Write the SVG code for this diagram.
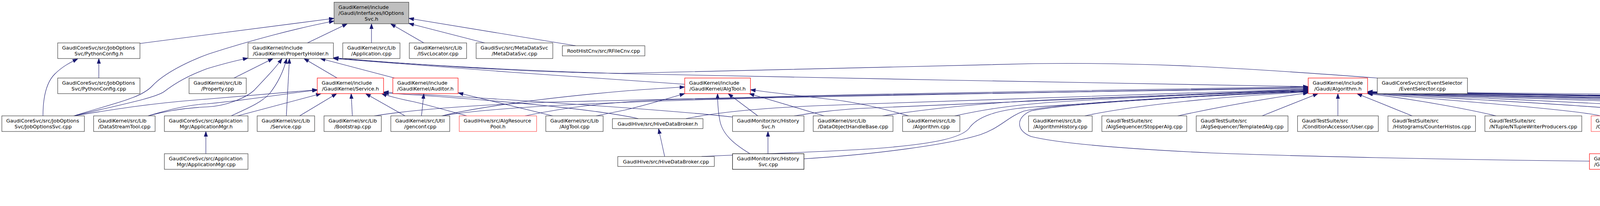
<svg xmlns="http://www.w3.org/2000/svg" width="6360" height="528" viewBox="0 0 6360 528">
<style>
.n rect{fill:#fff;stroke:#404040;stroke-width:1.2}
.n.r rect{stroke:#ff0000}
.n.rl rect{stroke:#ff4d4d}
.n.k rect{stroke:#000}
.n.g rect{fill:#bfbfbf}
text{font-family:"DejaVu Sans",Verdana,sans-serif;font-size:12.8px;fill:#000}
.m{text-anchor:middle}
#edges path{fill:none;stroke:#191970;stroke-width:1.1;marker-end:url(#ah)}
</style>
<defs>
<marker id="ah" viewBox="0 0 13 10" refX="13" refY="5" markerWidth="13" markerHeight="10" markerUnits="userSpaceOnUse" orient="auto">
<path d="M0,0.5 L13,5 L0,9.5 z" fill="#191970" stroke="#191970" stroke-width="1"/>
</marker>
</defs>
<rect x="0" y="0" width="6360" height="528" fill="#fff"/>
<g id="edges">
<path d="M358.3,111.5 L855.2,47"/>
<path d="M189,297 C300,262 360,252 390,220 C420,188 480,158 535,138 C640,104 760,72 855.2,54"/>
<path d="M787,110 L889,61"/>
<path d="M951,110 L951,61"/>
<path d="M1085,110 L1000,61"/>
<path d="M1241,110 L1046.5,60"/>
<path d="M1474,117.3 L1046.5,47"/>
<path d="M253,200 L253,150"/>
<path d="M110,297 C110,250 118,212 140,190 C160,170 180,160 199,151"/>
<path d="M189,297 C300,270 395,252 420,235 C450,212 480,195 530,176 C570,164 600,156 634.8,149"/>
<path d="M599,200 L699,150"/>
<path d="M379,297 C430,283 480,276 530,274 C580,272 630,250 650,232 C680,200 705,175 722,150"/>
<path d="M592,297 C640,275 670,262 690,240 C712,212 726,182 734,150"/>
<path d="M733,297 L741,150"/>
<path d="M863,200 L778,150"/>
<path d="M1010,200 L820,150"/>
<path d="M1752.9,216 C1500,200 1100,170 853.5,150"/>
<path d="M3349,222 C2900,214 2100,200 1600,189 C1300,180 1050,165 853.5,149"/>
<path d="M3526,200 C3100,168 2900,160 2650,163 C2300,170 1800,186 1590,188 C1350,186 1050,165 853.5,148"/>
<path d="M189,297 C280,282 380,265 530,254 C650,244 740,236 812.2,230"/>
<path d="M379,297 C420,285 470,270 530,266 C650,255 740,238 812.2,231"/>
<path d="M608,297 L822,240"/>
<path d="M767,297 L862,240"/>
<path d="M902,297 L899,240"/>
<path d="M1037,297 L936,240"/>
<path d="M1195,297 C1150,285 1100,270 1060,261 C1030,255 1000,248 977,240"/>
<path d="M1634,304 C1500,275 1200,252 981.9,238"/>
<path d="M1875.3,300 C1700,280 1300,255 981.9,236"/>
<path d="M1079,297 L1085,240"/>
<path d="M1415,297 L1173,238"/>
<path d="M1131,297 C1200,280 1350,255 1590,234 C1650,229 1700,226 1752.9,223"/>
<path d="M1526,297 C1560,290 1580,286 1600,282 C1660,268 1710,252 1752.9,240"/>
<path d="M1940,297 L1864,240"/>
<path d="M1920,394 C1880,370 1850,345 1843,310 C1838,285 1837,260 1837,240"/>
<path d="M2110,297 L1918,240"/>
<path d="M2326,297 C2250,275 2180,260 2120,254 C2050,246 1980,238 1921.2,230"/>
<path d="M958,297 C1050,282 1200,270 1400,262 C2000,245 3000,225 3349,222"/>
<path d="M1131,297 C1300,268 1700,258 2000,250 C2600,236 3100,226 3349,224"/>
<path d="M1344,297 C1450,275 1550,262 1700,256 C2300,240 3000,228 3349,226"/>
<path d="M1756,304 C1850,285 1980,275 2120,270 C2600,252 3100,235 3349,228"/>
<path d="M2033,297 C2080,290 2120,283 2200,278 C2700,255 3150,236 3349,229"/>
<path d="M2259,297 C2400,275 2550,262 2700,255 C3000,242 3250,234 3349,231"/>
<path d="M2444,297 C2500,285 2560,273 2680,263 C2950,245 3250,236 3349,232"/>
<path d="M1796,401 C1950,394 2150,388 2250,380 C2400,368 2460,352 2480,330 C2500,300 2550,280 2650,274 C2900,258 3200,238 3349,233"/>
<path d="M2058,407 C2250,395 2430,370 2510,345 C2560,328 2580,300 2620,285 C2700,265 3100,242 3349,234"/>
<path d="M4069,413 C3700,409 3300,400 3100,392 C2850,380 2700,365 2640,350 C2600,335 2600,300 2640,284 C2750,262 3150,242 3349,235"/>
<path d="M2777,297 C2900,270 3150,245 3349,236"/>
<path d="M3015,297 C3080,283 3200,258 3349,238"/>
<path d="M3231,297 L3374,240"/>
<path d="M3425,297 L3425,240"/>
<path d="M3615,297 L3474,240"/>
<path d="M3830,297 C3780,285 3650,258 3501,240"/>
<path d="M4097,297 C4040,282 3700,256 3501,239"/>
<path d="M4306,297 C4230,278 3750,254 3501,239"/>
<path d="M4500,297 C4420,275 3800,253 3501,238"/>
<path d="M4663,290 C4560,268 3850,252 3501,238"/>
<path d="M4905,297 C4780,268 3900,251 3501,238"/>
<path d="M5140,304 C4980,268 3950,250 3501,237"/>
<path d="M5236,394 C5270,370 5300,340 5290,311 C5282,292 5255,282 5200,276 C4700,262 3900,248 3501,237"/>
<path d="M5373,297 C5230,264 4000,250 3501,237"/>
<path d="M5624,297 C5480,262 4100,249 3501,236"/>
<path d="M5859,297 C5720,262 4200,248 3501,236"/>
<path d="M5806,407 C5900,402 6000,385 6040,355 C6060,330 6055,300 6033,287 C5950,272 4500,252 3501,236"/>
<path d="M5278,500 C5500,494 5950,455 6100,410 C6150,390 6130,350 6100,325 C6080,305 6070,292 6040,284 C5900,270 4500,252 3501,235"/>
<path d="M6236,394 C6210,370 6180,345 6160,320 C6140,300 6120,290 6080,284 C5800,268 4500,250 3501,235"/>
<path d="M6215,297 C6100,270 5800,262 5500,256 C4800,246 3900,240 3501,235"/>
<path d="M6262,394 L6269,337"/>
<path d="M5196,394 L5181,330"/>
<path d="M5667,394 L5510,337"/>
<path d="M1701.5,401 L1686,330"/>
<path d="M1966,394 L1966,337"/>
<path d="M4166,394 L4166,337"/>
<path d="M4999,490 C4800,473 4500,445 4264,423"/>
<path d="M527,394 L527,337"/>
</g>
<g id="n0" class="n g"><rect x="855.2" y="5.7" width="191.3" height="55.1"/><text x="866.6" y="22.6">GaudiKernel/include</text><text x="866.6" y="37.9">/Gaudi/Interfaces/IOptions</text><text class="m" x="950.9" y="53.2">Svc.h</text></g>
<g id="n1" class="n"><rect x="147.7" y="110" width="210.6" height="40"/><text x="159.1" y="126.9">GaudiCoreSvc/src/JobOptions</text><text class="m" x="253" y="142.1">Svc/PythonConfig.h</text></g>
<g id="n2" class="n"><rect x="634.8" y="110" width="218.7" height="40"/><text x="646.2" y="126.9">GaudiKernel/include</text><text class="m" x="744.2" y="142.1">/GaudiKernel/PropertyHolder.h</text></g>
<g id="n3" class="n"><rect x="877.5" y="110" width="146.4" height="40"/><text x="888.9" y="126.9">GaudiKernel/src/Lib</text><text class="m" x="950.7" y="142.1">/Application.cpp</text></g>
<g id="n4" class="n"><rect x="1047.8" y="110" width="146.7" height="40"/><text x="1059.2" y="126.9">GaudiKernel/src/Lib</text><text class="m" x="1121.2" y="142.1">/ISvcLocator.cpp</text></g>
<g id="n5" class="n"><rect x="1218.9" y="110" width="196.3" height="40"/><text x="1230.3" y="126.9">GaudiSvc/src/MetaDataSvc</text><text class="m" x="1317.1" y="142.1">/MetaDataSvc.cpp</text></g>
<g id="n6" class="n"><rect x="1439.6" y="117.3" width="211.2" height="26"/><text class="m" x="1545.2" y="134.9">RootHistCnv/src/RFileCnv.cpp</text></g>
<g id="n7" class="n"><rect x="147.7" y="200" width="210.6" height="40"/><text x="159.1" y="216.9">GaudiCoreSvc/src/JobOptions</text><text class="m" x="253" y="232.1">Svc/PythonConfig.cpp</text></g>
<g id="n8" class="n"><rect x="484" y="200" width="146.4" height="40"/><text x="495.4" y="216.9">GaudiKernel/src/Lib</text><text class="m" x="557.2" y="232.1">/Property.cpp</text></g>
<g id="n9" class="n r"><rect x="812.2" y="200" width="169.7" height="40"/><text x="823.6" y="216.9">GaudiKernel/include</text><text class="m" x="897.1" y="232.1">/GaudiKernel/Service.h</text></g>
<g id="n10" class="n r"><rect x="1005.6" y="200" width="167" height="40"/><text x="1017" y="216.9">GaudiKernel/include</text><text class="m" x="1089.1" y="232.1">/GaudiKernel/Auditor.h</text></g>
<g id="n11" class="n r"><rect x="1752.9" y="200" width="168.3" height="40"/><text x="1764.3" y="216.9">GaudiKernel/include</text><text class="m" x="1837" y="232.1">/GaudiKernel/AlgTool.h</text></g>
<g id="n12" class="n r"><rect x="3349" y="200" width="152" height="40"/><text x="3360.4" y="216.9">GaudiKernel/include</text><text class="m" x="3425" y="232.1">/Gaudi/Algorithm.h</text></g>
<g id="n13" class="n"><rect x="3525.8" y="200" width="230.8" height="40"/><text x="3537.2" y="216.9">GaudiCoreSvc/src/EventSelector</text><text class="m" x="3641.2" y="232.1">/EventSelector.cpp</text></g>
<g id="n14" class="n"><rect x="4.7" y="297" width="211.3" height="40"/><text x="16.1" y="313.9">GaudiCoreSvc/src/JobOptions</text><text class="m" x="110.4" y="329.1">Svc/JobOptionsSvc.cpp</text></g>
<g id="n15" class="n"><rect x="239.6" y="297" width="157.5" height="40"/><text x="251" y="313.9">GaudiKernel/src/Lib</text><text class="m" x="318.4" y="329.1">/DataStreamTool.cpp</text></g>
<g id="n16" class="n"><rect x="420.8" y="297" width="214" height="40"/><text x="432.2" y="313.9">GaudiCoreSvc/src/Application</text><text class="m" x="527.8" y="329.1">Mgr/ApplicationMgr.h</text></g>
<g id="n17" class="n"><rect x="658.4" y="297" width="147.1" height="40"/><text x="669.8" y="313.9">GaudiKernel/src/Lib</text><text class="m" x="732" y="329.1">/Service.cpp</text></g>
<g id="n18" class="n"><rect x="829.5" y="297" width="146.7" height="40"/><text x="840.9" y="313.9">GaudiKernel/src/Lib</text><text class="m" x="902.9" y="329.1">/Bootstrap.cpp</text></g>
<g id="n19" class="n"><rect x="1000.5" y="297" width="150.8" height="40"/><text x="1011.9" y="313.9">GaudiKernel/src/Util</text><text class="m" x="1075.9" y="329.1">/genconf.cpp</text></g>
<g id="n20" class="n rl"><rect x="1175.6" y="297" width="198.1" height="40"/><text x="1187" y="313.9">GaudiHive/src/AlgResource</text><text class="m" x="1274.7" y="329.1">Pool.h</text></g>
<g id="n21" class="n"><rect x="1397.3" y="297" width="146.7" height="40"/><text x="1408.7" y="313.9">GaudiKernel/src/Lib</text><text class="m" x="1470.7" y="329.1">/AlgTool.cpp</text></g>
<g id="n22" class="n"><rect x="1567.7" y="304.2" width="231.9" height="25.4"/><text class="m" x="1683.7" y="321.5">GaudiHive/src/HiveDataBroker.h</text></g>
<g id="n23" class="n"><rect x="1875.3" y="297" width="182.8" height="40"/><text x="1886.7" y="313.9">GaudiMonitor/src/History</text><text class="m" x="1966.7" y="329.1">Svc.h</text></g>
<g id="n24" class="n"><rect x="2081.8" y="297" width="204.2" height="40"/><text x="2093.2" y="313.9">GaudiKernel/src/Lib</text><text class="m" x="2183.9" y="329.1">/DataObjectHandleBase.cpp</text></g>
<g id="n25" class="n"><rect x="2310.6" y="297" width="146.7" height="40"/><text x="2322" y="313.9">GaudiKernel/src/Lib</text><text class="m" x="2384" y="329.1">/Algorithm.cpp</text></g>
<g id="n26" class="n"><rect x="2633.1" y="297" width="162.9" height="40"/><text x="2644.5" y="313.9">GaudiKernel/src/Lib</text><text class="m" x="2714.6" y="329.1">/AlgorithmHistory.cpp</text></g>
<g id="n27" class="n"><rect x="2820.7" y="297" width="217.3" height="40"/><text x="2832.1" y="313.9">GaudiTestSuite/src</text><text class="m" x="2929.4" y="329.1">/AlgSequencer/StopperAlg.cpp</text></g>
<g id="n28" class="n"><rect x="3062.4" y="297" width="234.9" height="40"/><text x="3073.8" y="313.9">GaudiTestSuite/src</text><text class="m" x="3179.9" y="329.1">/AlgSequencer/TemplatedAlg.cpp</text></g>
<g id="n29" class="n"><rect x="3321.6" y="297" width="206.9" height="40"/><text x="3333" y="313.9">GaudiTestSuite/src</text><text class="m" x="3425.1" y="329.1">/ConditionAccessor/User.cpp</text></g>
<g id="n30" class="n"><rect x="3553.2" y="297" width="224.1" height="40"/><text x="3564.6" y="313.9">GaudiTestSuite/src</text><text class="m" x="3665.3" y="329.1">/Histograms/CounterHistos.cpp</text></g>
<g id="n31" class="n"><rect x="3801.3" y="297" width="248.1" height="40"/><text x="3812.7" y="313.9">GaudiTestSuite/src</text><text class="m" x="3925.4" y="329.1">/NTuple/NTupleWriterProducers.cpp</text></g>
<g id="n32" class="n rl"><rect x="4073.4" y="297" width="185.9" height="40"/><text x="4084.8" y="313.9">GaudiKernel/include</text><text class="m" x="4166.4" y="329.1">/GaudiKernel/Algorithm.h</text></g>
<g id="n33" class="n rl"><rect x="4283.6" y="297" width="171" height="40"/><text x="4295" y="313.9">GaudiTestSuite/src</text><text class="m" x="4369.1" y="329.1">/PartProp/PartPropAlg.h</text></g>
<g id="n34" class="n rl"><rect x="4479" y="297" width="159.2" height="40"/><text x="4490.4" y="313.9">GaudiTestSuite/src</text><text class="m" x="4558.6" y="329.1">/ReEntAlg/ReEntAlg.h</text></g>
<g id="n35" class="n k"><rect x="4662.5" y="289.7" width="192" height="54.7"/><text x="4673.9" y="306.6">GaudiTestSuite/src</text><text x="4673.9" y="321.9">/ToolVisitorTest/ToolVisitor</text><text class="m" x="4758.5" y="337.2">Test_test.cpp</text></g>
<g id="n36" class="n rl"><rect x="4878.5" y="297" width="187.3" height="40"/><text x="4889.9" y="313.9">GaudiHive/src/PRGraph</text><text class="m" x="4972.2" y="329.1">/PrecedenceRulesGraph.h</text></g>
<g id="n37" class="n k"><rect x="5089" y="304.2" width="179.2" height="25.4"/><text class="m" x="5178.6" y="321.5">GaudiHive/src/AlgTask.h</text></g>
<g id="n38" class="n rl"><rect x="5342.3" y="297" width="227.1" height="40"/><text x="5353.7" y="313.9">GaudiUtils/include</text><text class="m" x="5455.9" y="329.1">/Gaudi/details/BranchWrapper.h</text></g>
<g id="n39" class="n"><rect x="5593" y="297" width="214" height="40"/><text x="5604.4" y="313.9">GaudiCoreSvc/src/Application</text><text class="m" x="5700" y="329.1">Mgr/AlgorithmManager.cpp</text></g>
<g id="n40" class="n rl"><rect x="5830.5" y="297" width="192.2" height="40"/><text x="5841.9" y="313.9">GaudiCoreSvc/src/Incident</text><text class="m" x="5926.6" y="329.1">Svc/IncidentProcAlg.h</text></g>
<g id="n41" class="n rl"><rect x="6198.4" y="297" width="152.1" height="40"/><text x="6209.8" y="313.9">GaudiKernel/include</text><text class="m" x="6274.5" y="329.1">/Gaudi/Sequence.h</text></g>
<g id="n42" class="n"><rect x="420.8" y="394" width="214" height="40"/><text x="432.2" y="410.9">GaudiCoreSvc/src/Application</text><text class="m" x="527.8" y="426.1">Mgr/ApplicationMgr.cpp</text></g>
<g id="n43" class="n"><rect x="1581.5" y="401.2" width="247.1" height="25.4"/><text class="m" x="1705" y="418.5">GaudiHive/src/HiveDataBroker.cpp</text></g>
<g id="n44" class="n k"><rect x="1875.3" y="394" width="182.8" height="40"/><text x="1886.7" y="410.9">GaudiMonitor/src/History</text><text class="m" x="1966.7" y="426.1">Svc.cpp</text></g>
<g id="n45" class="n r"><rect x="4069" y="394" width="195.1" height="40"/><text x="4080.4" y="410.9">GaudiFunctional/include</text><text class="m" x="4166.5" y="426.1">/Gaudi/Functional/details.h</text></g>
<g id="n46" class="n k"><rect x="5077" y="394" width="248.4" height="40"/><text x="5088.4" y="410.9">GaudiHive/src/AvalancheScheduler</text><text class="m" x="5201.2" y="426.1">Svc.cpp</text></g>
<g id="n47" class="n r"><rect x="5639.3" y="394" width="166.9" height="40"/><text x="5650.7" y="410.9">GaudiUtils/include</text><text class="m" x="5722.7" y="426.1">/Gaudi/NTuple/Writer.h</text></g>
<g id="n48" class="n k"><rect x="6162.6" y="394" width="192.3" height="40"/><text x="6174" y="410.9">GaudiHive/src/Precedence</text><text class="m" x="6258.7" y="426.1">Svc.cpp</text></g>
<g id="n49" class="n rl"><rect x="4999.2" y="483.7" width="278.8" height="40"/><text x="5010.6" y="500.6">GaudiFunctional/include</text><text class="m" x="5138.6" y="515.8">/Gaudi/Functional/MergingTransformer.h</text></g>
</svg>
